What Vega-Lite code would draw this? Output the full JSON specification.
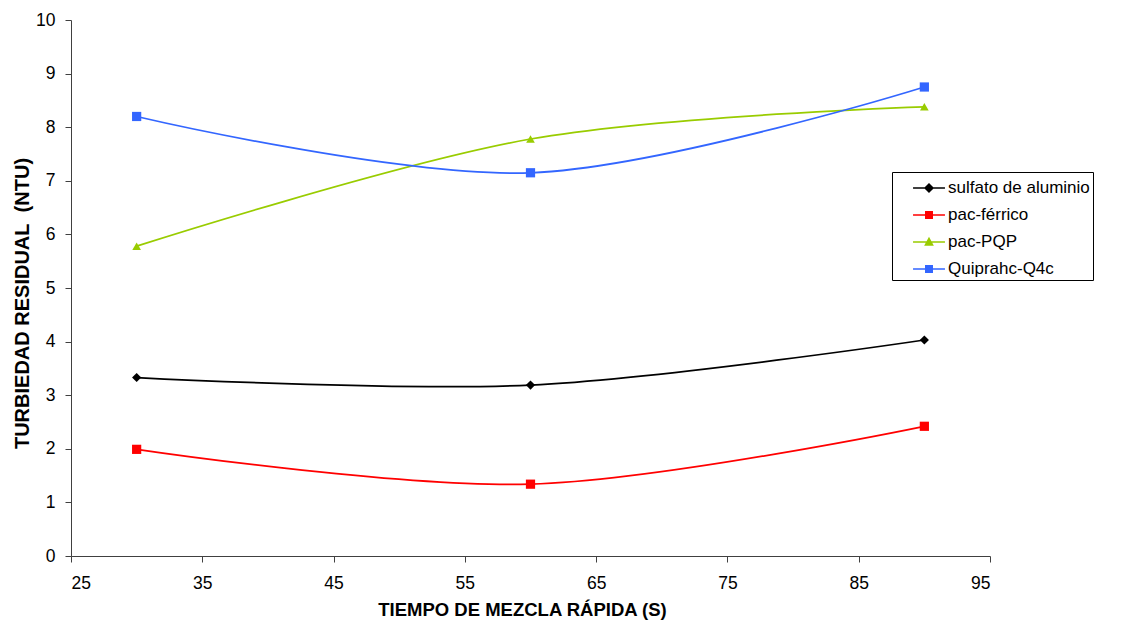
{
  "$schema": "https://vega.github.io/schema/vega-lite/v6.json",
  "width": 919,
  "height": 536,
  "autosize": "none",
  "padding": {"left": 71, "top": 20, "right": 135, "bottom": 68},
  "background": "white",
  "config": {
    "view": {"stroke": null},
    "font": "Liberation Sans",
    "axis": {"grid": false, "domainColor": "#404040", "tickColor": "#404040", "labelColor": "black", "titleColor": "black", "labelFont": "Liberation Sans", "titleFont": "Liberation Sans", "labelFontSize": 17.5, "titleFontWeight": "bold", "tickSize": 6}
  },
  "data": {
    "values": [
      {"t": 30, "v": 3.33, "s": "sulfato de aluminio"},
      {"t": 60, "v": 3.19, "s": "sulfato de aluminio"},
      {"t": 90, "v": 4.03, "s": "sulfato de aluminio"},
      {"t": 30, "v": 1.99, "s": "pac-férrico"},
      {"t": 60, "v": 1.34, "s": "pac-férrico"},
      {"t": 90, "v": 2.42, "s": "pac-férrico"},
      {"t": 30, "v": 5.78, "s": "pac-PQP"},
      {"t": 60, "v": 7.78, "s": "pac-PQP"},
      {"t": 90, "v": 8.38, "s": "pac-PQP"},
      {"t": 30, "v": 8.2, "s": "Quiprahc-Q4c"},
      {"t": 60, "v": 7.15, "s": "Quiprahc-Q4c"},
      {"t": 90, "v": 8.75, "s": "Quiprahc-Q4c"}
    ]
  },
  "encoding": {
    "x": {"field": "t", "type": "quantitative", "scale": {"domain": [25, 95], "nice": false, "zero": false},
      "axis": {"values": [25, 35, 45, 55, 65, 75, 85, 95], "title": "TIEMPO DE MEZCLA RÁPIDA (S)", "titleFontSize": 18.5, "titlePadding": 9, "labelPadding": 12, "titleX": 451}},
    "y": {"field": "v", "type": "quantitative", "scale": {"domain": [0, 10], "nice": false},
      "axis": {"values": [0, 1, 2, 3, 4, 5, 6, 7, 8, 9, 10], "title": "TURBIEDAD RESIDUAL\u00a0\u00a0(NTU)", "titleFontSize": 20, "titlePadding": 3, "labelPadding": 10, "titleY": 283}},
    "color": {"field": "s", "type": "nominal",
      "scale": {"domain": ["sulfato de aluminio", "pac-férrico", "pac-PQP", "Quiprahc-Q4c"], "range": ["#000000", "#FF0000", "#99CC00", "#3366FF"]},
      "legend": {
        "title": null, "orient": "none", "legendX": 821, "legendY": 152,
        "strokeColor": "black", "fillColor": "white", "padding": 3,
        "labelFontSize": 17, "labelFont": "Liberation Sans", "labelColor": "black", "labelOffset": 6,
        "symbolSize": 576, "symbolOffset": 21, "rowPadding": 6,
        "encode": {"symbols": {"update": {
          "shape": {"signal": "datum.value === 'sulfato de aluminio' ? 'M-1.33,0H1.33M0,-0.33L0.33,0L0,0.33L-0.33,0Z' : datum.value === 'pac-PQP' ? 'M-1.33,0H1.33M0,-0.3L0.3,0.25H-0.3Z' : 'M-1.33,0H1.33M-0.27,-0.27H0.27V0.27H-0.27Z'"},
          "size": {"value": 576},
          "fill": {"scale": "color", "field": "value"},
          "stroke": {"scale": "color", "field": "value"},
          "strokeWidth": {"value": 1.5},
          "opacity": {"value": 1}
        }}}
      }
    }
  },
  "layer": [
    {"mark": {"type": "line", "interpolate": "cardinal", "strokeWidth": 1.75}, "encoding": {}},
    {"transform": [{"filter": "datum.s === 'sulfato de aluminio'"}],
      "mark": {"type": "point", "filled": true, "opacity": 1, "size": 85, "shape": "diamond"}, "encoding": {}},
    {"transform": [{"filter": "datum.s === 'pac-PQP'"}],
      "mark": {"type": "point", "filled": true, "opacity": 1, "size": 75, "shape": "triangle-up"}, "encoding": {}},
    {"transform": [{"filter": "datum.s === 'pac-férrico' || datum.s === 'Quiprahc-Q4c'"}],
      "mark": {"type": "point", "filled": true, "opacity": 1, "size": 85, "shape": "square"}, "encoding": {}}
  ]
}
